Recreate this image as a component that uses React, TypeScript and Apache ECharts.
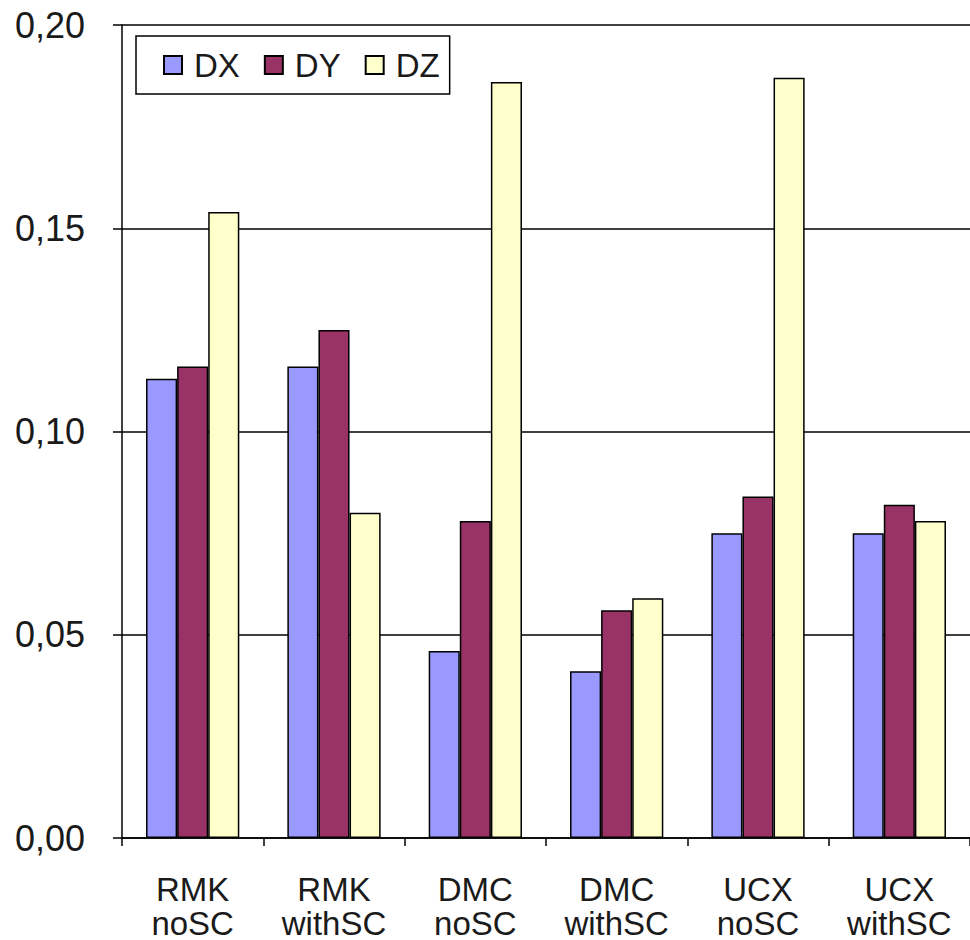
import React, { useEffect, useRef } from "react";
import * as echarts from "echarts";

const categories = ["RMK\nnoSC", "RMK\nwithSC", "DMC\nnoSC", "DMC\nwithSC", "UCX\nnoSC", "UCX\nwithSC"];
const dxValues = [0.113, 0.116, 0.046, 0.041, 0.075, 0.075];
const dyValues = [0.116, 0.125, 0.078, 0.056, 0.084, 0.082];
const dzValues = [0.154, 0.08, 0.186, 0.059, 0.187, 0.078];
const seriesNames = ["DX", "DY", "DZ"];
const seriesColors = ["#9999FF", "#993366", "#FFFFCC"];

const FONT = "'Liberation Sans', Arial, sans-serif";
const TEXT = "#1a1a1a";

export default function App() {
  const ref = useRef<HTMLDivElement>(null);

  useEffect(() => {
    if (!ref.current) return;
    const chart = echarts.init(ref.current, null, { renderer: "svg" });
    const values = [dxValues, dyValues, dzValues];
    chart.setOption({
      animation: false,
      backgroundColor: "#ffffff",
      textStyle: { fontFamily: FONT },
      grid: { left: 122, top: 25, bottom: 100, right: -10, containLabel: false },
      legend: {
        left: 136,
        top: 36,
        orient: "horizontal",
        data: seriesNames,
        itemWidth: 18,
        itemHeight: 18,
        itemGap: 24,
        padding: [12, 10, 12, 27],
        borderColor: "#000",
        borderWidth: 1.5,
        icon: "rect",
        textStyle: {
          fontSize: 33,
          lineHeight: 34,
          color: TEXT,
          fontFamily: FONT,
          padding: [0, 0, 0, 7],
        },
      },
      xAxis: {
        type: "category",
        data: categories,
        axisLine: { lineStyle: { color: "#000", width: 1.5 } },
        axisTick: { show: true, length: 8, lineStyle: { color: "#000", width: 1.5 } },
        axisLabel: {
          fontSize: 33,
          lineHeight: 34,
          margin: 34,
          color: TEXT,
          fontFamily: FONT,
          interval: 0,
        },
      },
      yAxis: {
        type: "value",
        min: 0,
        max: 0.2,
        interval: 0.05,
        axisLine: { show: true, lineStyle: { color: "#000", width: 1.5 } },
        axisTick: { show: true, length: 9, lineStyle: { color: "#000", width: 1.5 } },
        splitLine: { show: true, lineStyle: { color: "#000", width: 1.5 } },
        axisLabel: {
          fontSize: 36,
          margin: 37,
          color: TEXT,
          fontFamily: FONT,
          formatter: (v: number) => v.toFixed(2).replace(".", ","),
        },
      },
      series: seriesNames.map((name, i) => ({
        name,
        type: "bar",
        data: values[i],
        barGap: "0%",
        barCategoryGap: "34%",
        itemStyle: { color: seriesColors[i], borderColor: "#000", borderWidth: 1.5 },
      })),
    });
    return () => chart.dispose();
  }, []);

  return (
    <div
      ref={ref}
      style={{ position: "absolute", left: 0, top: 0, width: 970, height: 940 }}
    />
  );
}
